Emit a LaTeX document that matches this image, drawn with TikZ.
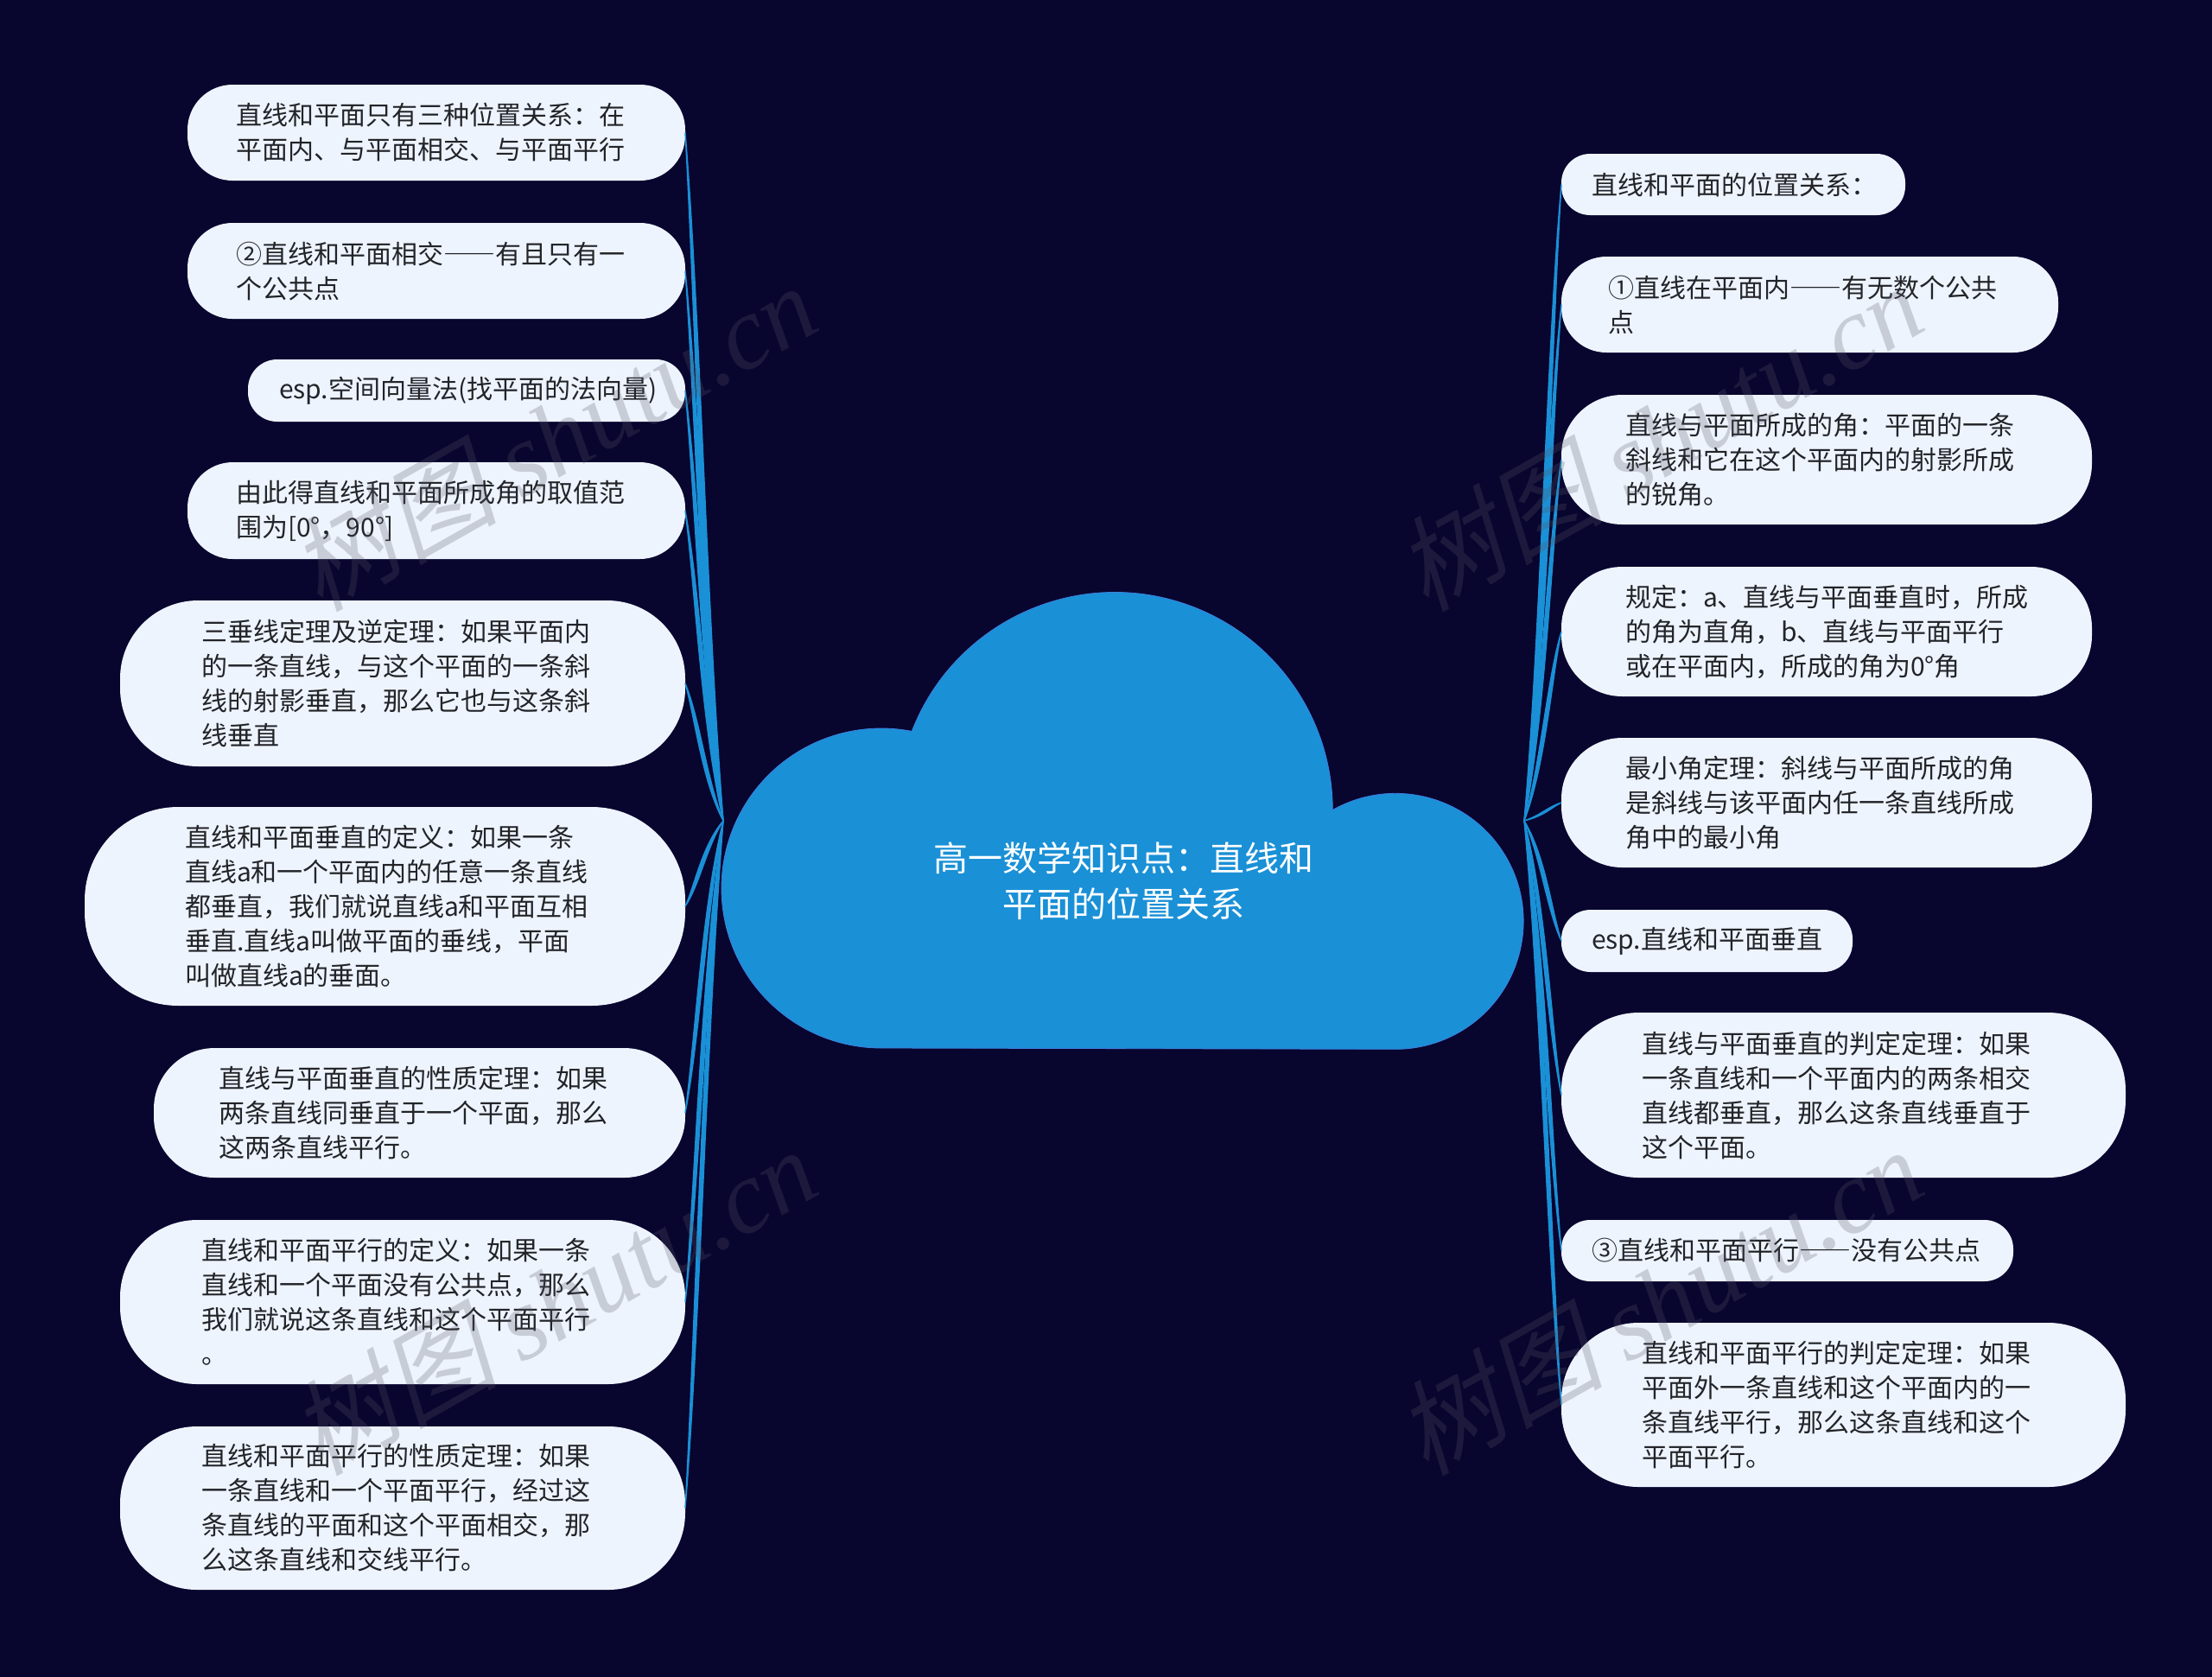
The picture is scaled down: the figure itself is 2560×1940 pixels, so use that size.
\documentclass[tikz,border=0pt]{standalone}
\usepackage{fontspec}
\setmainfont{Noto Sans CJK SC}
\newfontfamily\wmcjk[FakeSlant=0.22]{Noto Sans CJK SC}
\newfontfamily\wmlat{Liberation Serif}
\usetikzlibrary{calc}
\definecolor{bgColor}{HTML}{08052F}
\definecolor{cloudColor}{HTML}{1A90D6}
\definecolor{cloudEdge}{HTML}{3F80E0}
\definecolor{bubColor}{HTML}{EEF4FE}
\definecolor{inkColor}{HTML}{222428}
\definecolor{wmColor}{HTML}{585864}
\tikzset{
	bub/.style args={#1 by #2 pad #3}{
			fill=bubColor, text=inkColor, inner sep=0, outer sep=0, align=left,
			font=\fontsize{15}{20}\selectfont,
			minimum width=#1*0.5pt, minimum height=#2*0.5pt,
			text width=(#1-2*#3)*0.5pt, rounded corners=0.47*#2*0.5pt,
			execute at end node={\par\vskip-1.6pt}},
	wire/.style={fill=cloudColor, draw=cloudColor, line width=0.7pt},
	wmark/.style={rotate=29.5, text=wmColor, text opacity=0.25, inner sep=0,
			font=\fontsize{60}{64}\selectfont}
}
\newcommand{\wire}[3]{\path[wire] let \p1=(#1),\p2=(#2) in
	(#1) .. controls ({\x1+#3*12.5pt},{\y1+0.3*(\y2-\y1)}) and ({\x2-#3*5.7pt},{\y2-0.25*(\y2-\y1)}) .. (#2)
	.. controls ({\x2-#3*8.3pt},{\y2-0.25*(\y2-\y1)}) and ({\x1+#3*9.5pt},{\y1+0.3*(\y2-\y1)}) .. (#1) -- cycle;}
\newcommand{\wmtext}{{\wmcjk 树图} {\wmlat\itshape shutu.cn}}
\newcommand{\fw}[1]{{\addfontfeatures{RawFeature=+fwid}#1}}

\begin{document}
\begin{tikzpicture}[x=0.5pt,y=-0.5pt]
\useasboundingbox (0,0) rectangle (2560,1940);
\fill[bgColor] (-6,-6) rectangle (2566,1946);

\fill[cloudColor, draw=cloudEdge, line width=0.4pt] (1020,1213) arc[start angle=270, end angle=79, radius=92.5pt]
	arc[start angle=158.8, end angle=0, radius=126pt]
	arc[start angle=119.5, end angle=-90, radius=74pt] -- cycle;
\node[text=white, align=center, inner sep=0, font=\fontsize{20}{26.5}\selectfont] (root) at (1300,1020) {高一数学知识点：直线和\\平面的位置关系};
\coordinate (hubL) at (837,950);
\coordinate (hubR) at (1764,950);

\node[bub={576 by 111 pad 56}] (la) at (505,153.5) {直线和平面只有三种位置关系：在\\平面内、与平面相交、与平面平行};
\node[bub={576 by 111 pad 56}] (lb) at (505,313.5) {\fw{②}直线和平面相交\fw{——}有且只有一\\个公共点};
\node[bub={506 by 72 pad 36}] (lc) at (540,452) {esp.空间向量法(找平面的法向量)};
\node[bub={576 by 112 pad 56}] (ld) at (505,591) {由此得直线和平面所成角的取值范\\围为[0°，90°]};
\node[bub={654 by 192 pad 94}] (le) at (466,791) {三垂线定理及逆定理：如果平面内\\的一条直线，与这个平面的一条斜\\线的射影垂直，那么它也与这条斜\\线垂直};
\node[bub={695 by 230 pad 116}] (lf) at (445.5,1049) {直线和平面垂直的定义：如果一条\\直线a和一个平面内的任意一条直线\\都垂直，我们就说直线a和平面互相\\垂直.直线a叫做平面的垂线，平面\\叫做直线a的垂面。};
\node[bub={615 by 150 pad 75}] (lg) at (485.5,1288) {直线与平面垂直的性质定理：如果\\两条直线同垂直于一个平面，那么\\这两条直线平行。};
\node[bub={654 by 190 pad 94}] (lh) at (466,1507) {直线和平面平行的定义：如果一条\\直线和一个平面没有公共点，那么\\我们就说这条直线和这个平面平行\\。};
\node[bub={654 by 189 pad 94}] (li) at (466,1745.5) {直线和平面平行的性质定理：如果\\一条直线和一个平面平行，经过这\\条直线的平面和这个平面相交，那\\么这条直线和交线平行。};

\node[bub={398 by 71 pad 35}] (ra) at (2006,213.5) {直线和平面的位置关系：};
\node[bub={575 by 111 pad 54}] (rb) at (2094.5,352.5) {\fw{①}直线在平面内\fw{——}有无数个公共\\点};
\node[bub={614 by 150 pad 74}] (rc) at (2114,532) {直线与平面所成的角：平面的一条\\斜线和它在这个平面内的射影所成\\的锐角。};
\node[bub={614 by 150 pad 74}] (rd) at (2114,731) {规定：a、直线与平面垂直时，所成\\的角为直角，b、直线与平面平行\\或在平面内，所成的角为0°角};
\node[bub={614 by 150 pad 74}] (re) at (2114,929) {最小角定理：斜线与平面所成的角\\是斜线与该平面内任一条直线所成\\角中的最小角};
\node[bub={337 by 72 pad 35}] (rf) at (1975.5,1089) {esp.直线和平面垂直};
\node[bub={653 by 191 pad 93}] (rg) at (2133.5,1267.5) {直线与平面垂直的判定定理：如果\\一条直线和一个平面内的两条相交\\直线都垂直，那么这条直线垂直于\\这个平面。};
\node[bub={523 by 71 pad 35}] (rh) at (2068.5,1447.5) {\fw{③}直线和平面平行\fw{——}没有公共点};
\node[bub={653 by 190 pad 93}] (ri) at (2133.5,1626) {直线和平面平行的判定定理：如果\\平面外一条直线和这个平面内的一\\条直线平行，那么这条直线和这个\\平面平行。};

\wire{hubL}{la.east}{-1}
\wire{hubL}{lb.east}{-1}
\wire{hubL}{lc.east}{-1}
\wire{hubL}{ld.east}{-1}
\wire{hubL}{le.east}{-1}
\wire{hubL}{lf.east}{-1}
\wire{hubL}{lg.east}{-1}
\wire{hubL}{lh.east}{-1}
\wire{hubL}{li.east}{-1}
\wire{hubR}{ra.west}{1}
\wire{hubR}{rb.west}{1}
\wire{hubR}{rc.west}{1}
\wire{hubR}{rd.west}{1}
\wire{hubR}{re.west}{1}
\wire{hubR}{rf.west}{1}
\wire{hubR}{rg.west}{1}
\wire{hubR}{rh.west}{1}
\wire{hubR}{ri.west}{1}

\node[wmark] (wma) at (640,505) {\wmtext};
\node[wmark] (wmb) at (1920,505) {\wmtext};
\node[wmark] (wmc) at (640,1505) {\wmtext};
\node[wmark] (wmd) at (1920,1505) {\wmtext};
\end{tikzpicture}
\end{document}
